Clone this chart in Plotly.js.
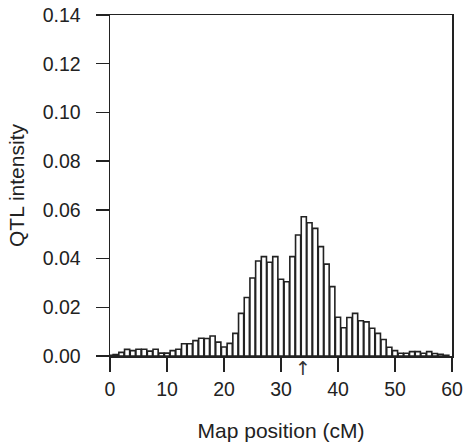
<!DOCTYPE html>
<html>
<head>
<meta charset="utf-8">
<script src="https://cdn.plot.ly/plotly-3.0.1.min.js"></script>
<style>html,body{margin:0;padding:0;background:#fff;}#chart{width:464px;height:448px;}</style>
</head>
<body>
<div id="chart"></div>
<script>
// Map positions (cM), bin centres
const positions = [0,1,2,3,4,5,6,7,8,9,10,11,12,13,14,15,16,17,18,19,20,21,22,23,24,25,26,27,28,29,30,31,32,33,34,35,36,37,38,39,40,41,42,43,44,45,46,47,48,49,50,51,52,53,54,55,56,57,58,59];
// QTL intensity per bin
const intensity = [0.0003,0.0006,0.0015,0.0027,0.0022,0.0028,0.0028,0.0020,0.0028,0.0012,
  0.0012,0.0022,0.0028,0.0050,0.0050,0.0063,0.0073,0.0072,0.0082,0.0057,
  0.0037,0.0052,0.0093,0.0175,0.0240,0.0320,0.0390,0.0408,0.0385,0.0408,
  0.0315,0.0305,0.0408,0.0497,0.0572,0.0547,0.0524,0.0449,0.0377,0.0285,
  0.0159,0.0116,0.0158,0.0175,0.0145,0.0140,0.0114,0.0093,0.0068,0.0036,
  0.0022,0.0011,0.0011,0.0018,0.0018,0.0011,0.0018,0.0010,0.0007,0.0003];
const xTicks = [0,10,20,30,40,50,60];
const yTicks = [0,0.02,0.04,0.06,0.08,0.10,0.12,0.14];
const yTickLabels = ["0.00","0.02","0.04","0.06","0.08","0.10","0.12","0.14"];
const arrowPosition = 33.8;

const ink = '#222222';
const tickFont = {family: 'Liberation Sans, Arial, sans-serif', size: 19.5, color: ink};
const titleFont = {family: 'Liberation Sans, Arial, sans-serif', size: 21, color: ink};

const trace = {
  type: 'bar',
  x: positions,
  y: intensity,
  width: 0.9,
  marker: {color: '#ffffff', line: {color: ink, width: 1.6}},
  hoverinfo: 'skip'
};

const layout = {
  width: 464, height: 448,
  margin: {l: 110, r: 12, t: 15, b: 92, pad: 0},
  paper_bgcolor: '#ffffff', plot_bgcolor: '#ffffff',
  font: tickFont,
  showlegend: false,
  bargap: 0,
  xaxis: {
    range: [0, 60], tickvals: xTicks, ticks: 'outside', ticklen: 14, tickwidth: 1.5, tickcolor: ink,
    showline: true, linecolor: ink, linewidth: 1.5, mirror: true, showgrid: false, zeroline: false,
    tickfont: tickFont, ticklabelstandoff: 1,
    title: {text: 'Map position (cM)', font: titleFont, standoff: 24}
  },
  yaxis: {
    range: [0, 0.14], tickvals: yTicks, ticktext: yTickLabels, ticks: 'outside', ticklen: 13, tickwidth: 1.5, tickcolor: ink,
    showline: true, linecolor: ink, linewidth: 1.5, mirror: true, showgrid: false, zeroline: false,
    tickfont: tickFont, ticklabelstandoff: 11,
    title: {text: 'QTL intensity', font: titleFont, standoff: 12}
  },
  annotations: [{
    x: arrowPosition, xref: 'x', y: 0, yref: 'paper', yanchor: 'top', yshift: 1,
    text: '↑', showarrow: false, font: {family: 'DejaVu Sans, sans-serif', size: 19, color: '#333333'}
  }]
};

Plotly.newPlot('chart', [trace], layout, {staticPlot: true, displayModeBar: false});
</script>
</body>
</html>
